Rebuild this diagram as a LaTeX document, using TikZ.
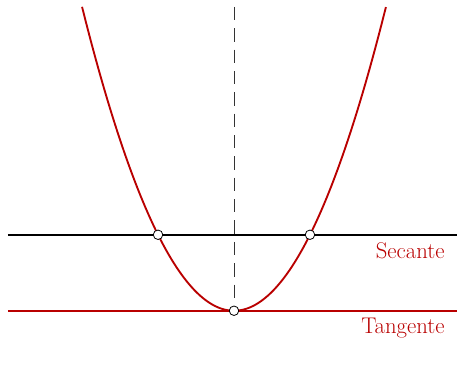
\documentclass[tikz,border=0pt]{standalone}
\usepackage{tikz}
\usetikzlibrary{arrows.meta,positioning}
\usepackage{xcolor}
\definecolor{curvered}{RGB}{185,0,0}

\begin{document}
\begin{tikzpicture}[
  font=\fontsize{17}{20}\selectfont,
  pt/.style={circle,draw,fill=white,inner sep=0pt,minimum size=2.5mm,line width=0.6pt},
  ln/.style={line width=1.4pt},
  lbl/.style={text=curvered,anchor=east,inner sep=0pt}
]
\useasboundingbox (-6.16,-1.95) rectangle (5.87,8.18);
\coordinate (secL) at (-5.95,2);
\coordinate (secR) at (5.87,2);
\coordinate (tanL) at (-5.95,0);
\coordinate (tanR) at (5.87,0);
\coordinate (axtop) at (0,8);
\draw[ln] (secL)--(secR);
\draw[ln,curvered] (tanL)--(tanR);
\draw[thin,black!80,dash pattern=on 10pt off 6pt] (axtop)--(0,0);
\draw[ln,curvered,domain=-4:4,samples=120,smooth] plot (\x,{\x*\x/2});
\node[pt] (p1) at (-2,2) {};
\node[pt] (p2) at (2,2) {};
\node[pt] (vertex) at (0,0) {};
\node[lbl] (secante) at (5.55,1.58) {Secante};
\node[lbl] (tangente) at (5.55,-0.45) {Tangente};
\end{tikzpicture}
\end{document}
